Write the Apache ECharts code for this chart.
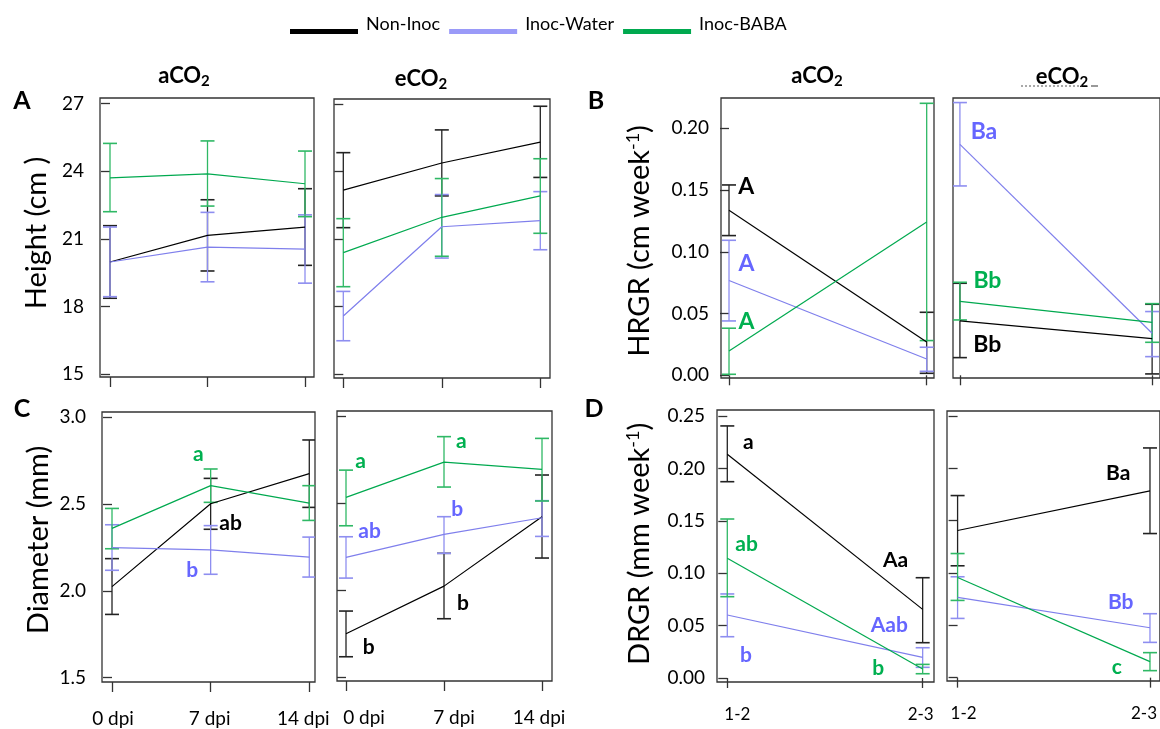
<!DOCTYPE html>
<html>
<head>
<meta charset="utf-8">
<script src="https://cdn.jsdelivr.net/npm/echarts@6/dist/echarts.min.js"></script>
<style>
  html, body { margin: 0; background: #fff; }
  #chart { width: 1160px; height: 729px; }
</style>
</head>
<body>
<div id="chart"></div>
<script>
// groups and axes
const groups = ['Non-Inoc', 'Inoc-Water', 'Inoc-BABA'];
const dpi = [0, 7, 14];
const intervals = ['1-2', '2-3'];
const heightTicks = [15, 18, 21, 24, 27];
const diameterTicks = [1.5, 2.0, 2.5, 3.0];
const hrgrTicks = [0, 0.05, 0.10, 0.15, 0.20];
const drgrTicks = [0, 0.05, 0.10, 0.15, 0.20, 0.25];

// rows: group index, time index, mean, lower, upper
const heightAmb = [
  [0, 0, 19.97, 18.36, 21.58], [0, 1, 21.15, 19.57, 22.73], [0, 2, 21.52, 19.82, 23.22],
  [1, 0, 19.97, 18.43, 21.52], [1, 1, 20.63, 19.09, 22.17], [1, 2, 20.54, 19.03, 22.06],
  [2, 0, 23.70, 22.20, 25.23], [2, 1, 23.88, 22.45, 25.34], [2, 2, 23.44, 21.98, 24.89]
];
const heightElev = [
  [0, 0, 23.18, 21.51, 24.84], [0, 1, 24.38, 22.92, 25.85], [0, 2, 25.31, 23.74, 26.90],
  [1, 0, 17.59, 16.49, 18.68], [1, 1, 21.55, 20.16, 22.98], [1, 2, 21.82, 20.53, 23.11],
  [2, 0, 20.40, 18.89, 21.91], [2, 1, 21.97, 20.24, 23.69], [2, 2, 22.92, 21.26, 24.57]
];
const diameterAmb = [
  [0, 0, 2.024, 1.864, 2.185], [0, 1, 2.501, 2.354, 2.647], [0, 2, 2.674, 2.480, 2.868],
  [1, 0, 2.248, 2.118, 2.380], [1, 1, 2.235, 2.095, 2.375], [1, 2, 2.194, 2.079, 2.309],
  [2, 0, 2.359, 2.242, 2.474], [2, 1, 2.605, 2.509, 2.701], [2, 2, 2.505, 2.405, 2.605]
];
const diameterElev = [
  [0, 0, 1.752, 1.620, 1.882], [0, 1, 2.025, 1.838, 2.213], [0, 2, 2.423, 2.186, 2.662],
  [1, 0, 2.190, 2.071, 2.308], [1, 1, 2.322, 2.213, 2.423], [1, 2, 2.417, 2.310, 2.515],
  [2, 0, 2.534, 2.371, 2.690], [2, 1, 2.736, 2.593, 2.882], [2, 2, 2.694, 2.513, 2.872]
];
const hrgrAmb = [
  [0, 0, 0.1336, 0.1131, 0.1541], [0, 1, 0.0270, 0.0016, 0.0510],
  [1, 0, 0.0767, 0.0440, 0.1093], [1, 1, 0.0132, 0.0032, 0.0227],
  [2, 0, 0.0197, 0.0008, 0.0381], [2, 1, 0.1242, 0.0281, 0.2202]
];
const hrgrElev = [
  [0, 0, 0.0440, 0.0143, 0.0745], [0, 1, 0.0297, 0.0011, 0.0575],
  [1, 0, 0.1870, 0.1533, 0.2208], [1, 1, 0.0340, 0.0151, 0.0516],
  [2, 0, 0.0599, 0.0448, 0.0753], [2, 1, 0.0429, 0.0267, 0.0580]
];
const drgrAmb = [
  [0, 0, 0.2134, 0.1873, 0.2405], [0, 1, 0.0655, 0.0337, 0.0957],
  [1, 0, 0.0601, 0.0394, 0.0802], [1, 1, 0.0197, 0.0102, 0.0289],
  [2, 0, 0.1142, 0.0776, 0.1517], [2, 1, 0.0086, 0.0041, 0.0130]
];
const drgrElev = [
  [0, 0, 0.1406, 0.1069, 0.1740], [0, 1, 0.1784, 0.1377, 0.2195],
  [1, 0, 0.0767, 0.0566, 0.0964], [1, 1, 0.0477, 0.0337, 0.0611],
  [2, 0, 0.0957, 0.0738, 0.1186], [2, 1, 0.0153, 0.0067, 0.0239]
];

// significance letters: group, x (axis units), y, text
const diameterAmbLetters = [[2, 6.13, 2.785, 'a'], [0, 8.42, 2.388, 'ab'], [1, 5.70, 2.116, 'b']];
const diameterElevLetters = [
  [2, 1.05, 2.740, 'a'], [2, 8.23, 2.857, 'a'], [1, 1.69, 2.339, 'ab'],
  [1, 7.95, 2.463, 'b'], [0, 1.63, 1.672, 'b'], [0, 8.35, 1.926, 'b']
];
const hrgrAmbLetters = [[0, 0.087, 0.1528, 'A'], [1, 0.089, 0.0907, 'A'], [2, 0.089, 0.0437, 'A']];
const hrgrElevLetters = [[1, 0.125, 0.197, 'Ba'], [2, 0.143, 0.0767, 'Bb'], [0, 0.142, 0.0248, 'Bb']];
const drgrAmbLetters = [
  [0, 0.108, 0.2252, 'a'], [0, 0.861, 0.1123, 'Aa'], [2, 0.099, 0.1275, 'ab'],
  [1, 0.829, 0.0499, 'Aab'], [1, 0.095, 0.0219, 'b'], [2, 0.773, 0.0092, 'b']
];
const drgrElevLetters = [[0, 0.835, 0.195, 'Ba'], [1, 0.848, 0.0725, 'Bb'], [2, 0.828, 0.0102, 'c']];

const lineColors = ['#000000', '#7f7fec', '#00a94f'];
const barColors = ['#222222', '#8e8ef0', '#2fb865'];
const letterColors = ['#000000', '#6666ff', '#00b050'];
const legendColors = ['#000000', '#9a9af8', '#00a94f'];
const FONT = 'Lato, "Noto Sans", sans-serif';

// shift: horizontal nudge (px) of each x tick label, as in the original layout
const panels = [
  { rows: heightAmb, letters: null, x: 'dpi', grid: [100, 98, 214, 279], xr: [-0.718, 14.646], yr: [14.867, 27.244], ticks: heightTicks, yLab: true, xLab: false, dec: 0 },
  { rows: heightElev, letters: null, x: 'dpi', grid: [334, 99, 216, 279], xr: [-0.661, 14.689], yr: [14.836, 27.222], ticks: heightTicks, yLab: false, xLab: false, dec: 0 },
  { rows: diameterAmb, letters: diameterAmbLetters, x: 'dpi', grid: [102, 412, 213, 270], xr: [-0.71, 14.405], yr: [1.475, 3.029], ticks: diameterTicks, yLab: true, xLab: true, dec: 1, fs: 21, shift: [1, -1, -6] },
  { rows: diameterElev, letters: diameterElevLetters, x: 'dpi', grid: [337, 411, 215, 270], xr: [-0.643, 14.714], yr: [1.481, 3.029], ticks: diameterTicks, yLab: false, xLab: true, dec: 1, fs: 21, shift: [18, 10, -3] },
  { rows: hrgrAmb, letters: hrgrAmbLetters, x: 'int', grid: [721, 98, 213, 280], xr: [-0.0405, 1.037], yr: [-0.0022, 0.2245], ticks: hrgrTicks, yLab: true, xLab: false, dec: 2, fs: 23 },
  { rows: hrgrElev, letters: hrgrElevLetters, x: 'int', grid: [953, 98, 209, 280], xr: [-0.036, 1.041], yr: [-0.0022, 0.2245], ticks: hrgrTicks, yLab: false, noYTick: true, xLab: false, dec: 2, fs: 23 },
  { rows: drgrAmb, letters: drgrAmbLetters, x: 'int', grid: [717, 410, 217, 272], xr: [-0.0527, 1.058], yr: [-0.0038, 0.2557], ticks: drgrTicks, yLab: true, xLab: true, dec: 2, fs: 21, shift: [10, -2] },
  { rows: drgrElev, letters: drgrElevLetters, x: 'int', grid: [947, 411, 215, 270], xr: [-0.055, 1.0515], yr: [-0.0032, 0.2548], ticks: drgrTicks, yLab: false, xLab: true, dec: 2, fs: 21, shift: [6, -6] }
];

const grids = [], xAxes = [], yAxes = [], series = [];

panels.forEach((p, i) => {
  const g = p.grid;
  grids.push({ left: g[0], top: g[1], width: g[2], height: g[3], show: true,
    borderColor: '#333', borderWidth: 1.3, backgroundColor: 'transparent' });
  const isDpi = p.x === 'dpi';
  const xVal = isDpi ? (k => dpi[k]) : (k => k);
  const xTicks = isDpi ? dpi : intervals.map((s, k) => k);
  const shift = p.shift || [0, 0, 0];
  const rich = {};
  xTicks.forEach((t, k) => {
    const d = shift[k] * 2;
    rich['t' + k] = { fontFamily: FONT, fontSize: isDpi ? 19 : 17, color: '#000',
      padding: d >= 0 ? [0, 0, 0, d] : [0, -d, 0, 0] };
  });
  xAxes.push({
    gridIndex: i, type: 'value', min: p.xr[0], max: p.xr[1],
    axisLine: { show: false }, splitLine: { show: false },
    axisTick: { show: true, length: 10, customValues: xTicks, lineStyle: { color: '#333', width: 1.3 } },
    axisLabel: {
      show: p.xLab, customValues: xTicks,
      margin: isDpi ? 27 : 24, rich: rich,
      formatter: v => {
        const k = xTicks.indexOf(v);
        return '{t' + k + '|' + (isDpi ? v + ' dpi' : intervals[k]) + '}';
      }
    }
  });
  yAxes.push({
    gridIndex: i, type: 'value', min: p.yr[0], max: p.yr[1],
    axisLine: { show: false }, splitLine: { show: false },
    axisTick: { show: !p.noYTick, length: 9, customValues: p.ticks, lineStyle: { color: '#333', width: 1.3 } },
    axisLabel: {
      show: p.yLab, customValues: p.ticks, margin: isDpi ? 16 : 12,
      fontFamily: FONT, fontSize: 19, color: '#000',
      formatter: v => v.toFixed(p.dec)
    }
  });

  groups.forEach((name, gi) => {
    const rows = p.rows.filter(r => r[0] === gi);
    series.push({
      name: name, type: 'line', xAxisIndex: i, yAxisIndex: i,
      symbol: 'none', animation: false, z: 3,
      lineStyle: { color: lineColors[gi], width: 1.2 },
      itemStyle: { color: lineColors[gi] },
      data: rows.map(r => [xVal(r[1]), r[2]])
    });
    series.push({
      type: 'custom', xAxisIndex: i, yAxisIndex: i, animation: false, z: 2,
      data: rows.map(r => [xVal(r[1]), r[3], r[4]]),
      renderItem: function (params, api) {
        const x = api.value(0);
        const lo = api.coord([x, api.value(1)]);
        const hi = api.coord([x, api.value(2)]);
        const cs = params.coordSys;
        const l = Math.max(cs.x, lo[0] - 7);
        const r = Math.min(cs.x + cs.width, lo[0] + 7);
        const st = { stroke: barColors[gi], lineWidth: 1.3 };
        return { type: 'group', children: [
          { type: 'line', shape: { x1: lo[0], y1: lo[1], x2: hi[0], y2: hi[1] }, style: st },
          { type: 'line', shape: { x1: l, y1: lo[1], x2: r, y2: lo[1] }, style: { stroke: barColors[gi], lineWidth: 1.6 } },
          { type: 'line', shape: { x1: l, y1: hi[1], x2: r, y2: hi[1] }, style: { stroke: barColors[gi], lineWidth: 1.6 } }
        ] };
      }
    });
  });

  if (p.letters) {
    const lt = p.letters;
    series.push({
      type: 'custom', xAxisIndex: i, yAxisIndex: i, animation: false, z: 5,
      data: lt.map(r => [r[1], r[2]]),
      renderItem: function (params, api) {
        const row = lt[params.dataIndex];
        const pt = api.coord([api.value(0), api.value(1)]);
        return { type: 'text', x: pt[0], y: pt[1], style: {
          text: row[3], fill: letterColors[row[0]], font: 'bold ' + p.fs + 'px ' + FONT,
          align: 'center', verticalAlign: 'middle' } };
      }
    });
  }
});

function colTitle(t, x, y) {
  return { type: 'text', x: x, y: y, style: {
    text: '{m|' + t + '}{s|2}', align: 'center', verticalAlign: 'middle',
    rich: {
      m: { fontFamily: FONT, fontWeight: 'bold', fontSize: 22, fill: '#000' },
      s: { fontFamily: FONT, fontWeight: 'bold', fontSize: 15, fill: '#000', padding: [10, 0, 0, 0] }
    } } };
}
function panelLetter(t, x, y) {
  return { type: 'text', x: x, y: y, style: { text: t, font: 'bold 25px ' + FONT, fill: '#000', align: 'center', verticalAlign: 'middle' } };
}
function axisTitle(main, sup, x, y) {
  return { type: 'text', x: x, y: y, rotation: Math.PI / 2, style: {
    text: '{m|' + main + '}' + (sup ? '{p|' + sup + '}{m|)}' : ''),
    align: 'center', verticalAlign: 'middle',
    rich: {
      m: { fontFamily: FONT, fontSize: 29, fill: '#000' },
      p: { fontFamily: FONT, fontSize: 18, fill: '#000', padding: [0, 0, 14, 0] }
    } } };
}

const chart = echarts.init(document.getElementById('chart'), null, { renderer: 'canvas' });
chart.setOption({
  animation: false,
  backgroundColor: '#fff',
  legend: {
    // icon box is taller than the bar so the bar sits below the text middle
    left: 285, top: 9, itemWidth: 68, itemHeight: 20, itemGap: 9,
    icon: 'path://M0,0L0.5,0L0.5,0.05L0,0.05Z M0,15L68,15L68,20L0,20Z',
    textStyle: { fontFamily: FONT, fontSize: 18, color: '#000', padding: [0, 0, 0, 3] },
    data: groups.map((n, k) => ({ name: n, itemStyle: { color: legendColors[k] } }))
  },
  grid: grids,
  xAxis: xAxes,
  yAxis: yAxes,
  series: series,
  graphic: [
    colTitle('aCO', 184, 76), colTitle('eCO', 421, 79),
    colTitle('aCO', 817, 76), colTitle('eCO', 1062, 77),
    { type: 'line', shape: { x1: 1021, y1: 86, x2: 1082, y2: 86 },
      style: { stroke: '#555', lineWidth: 1.2, lineDash: [2, 2] } },
    { type: 'line', shape: { x1: 1091, y1: 86, x2: 1098, y2: 86 },
      style: { stroke: '#555', lineWidth: 1.2 } },
    panelLetter('A', 22, 101), panelLetter('B', 596, 101),
    panelLetter('C', 22, 409), panelLetter('D', 594, 409),
    axisTitle('Height (cm )', null, 37, 233),
    axisTitle('Diameter (mm)', null, 39, 540),
    axisTitle('HRGR (cm week', '-1', 640, 241),
    axisTitle('DRGR (mm week', '-1', 640, 544)
  ]
});
</script>
</body>
</html>
